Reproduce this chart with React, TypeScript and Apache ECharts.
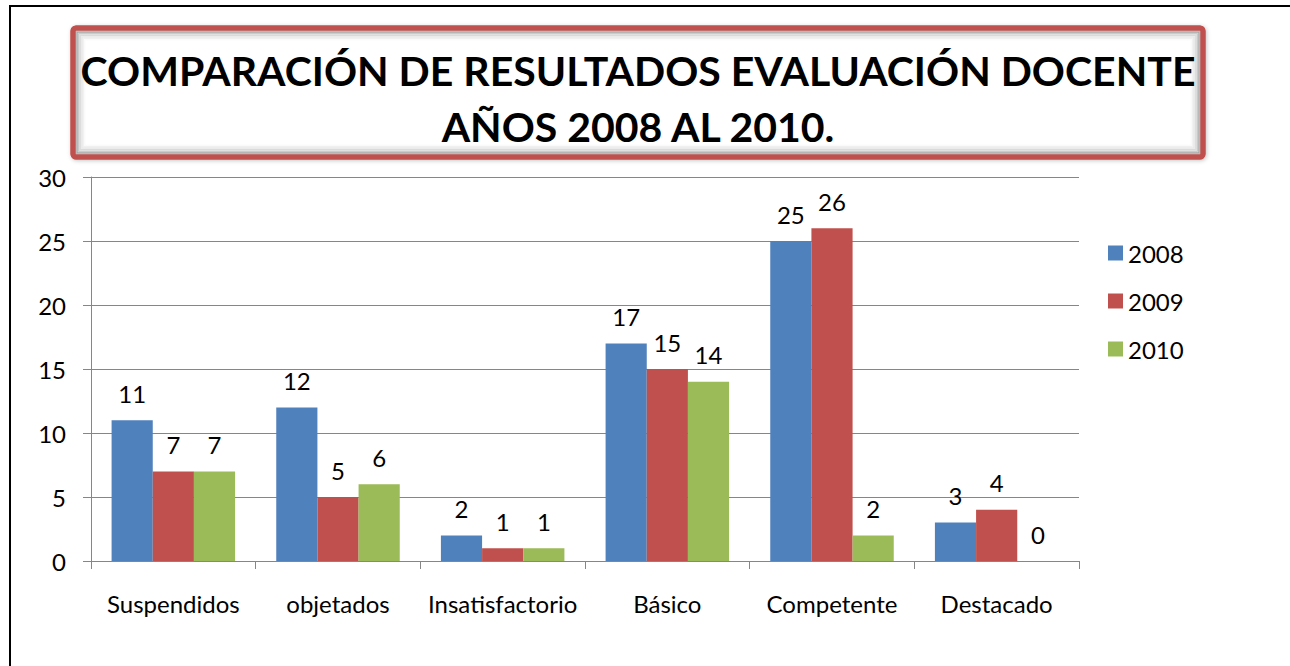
import React, { useEffect, useRef } from "react";
import * as echarts from "echarts";

const categories = ["Suspendidos", "objetados", "Insatisfactorio", "Básico", "Competente", "Destacado"];
const seriesNames = ["2008", "2009", "2010"];
const values2008 = [11, 12, 2, 17, 25, 3];
const values2009 = [7, 5, 1, 15, 26, 4];
const values2010 = [7, 6, 1, 14, 2, 0];
const colors = ["#4F81BD", "#C0504D", "#9BBB59"];
const titleLines = ["COMPARACIÓN DE RESULTADOS EVALUACIÓN DOCENTE", "AÑOS 2008 AL 2010."];

const FONT = "Lato, 'Open Sans', sans-serif";

export default function App() {
  const ref = useRef<HTMLDivElement>(null);
  useEffect(() => {
    if (!ref.current) return;
    const chart = echarts.init(ref.current, null, { renderer: "svg" });
    const seriesData = [values2008, values2009, values2010];
    const boxX = 73, boxY = 28, boxW = 1130, boxH = 129;
    const glow: any[] = [];
    const alphas = [0.27, 0.18, 0.12, 0.08, 0.05, 0.02];
    alphas.forEach((a, i) => {
      const inset = 3.5 + i * 1.6;
      glow.push({
        type: "rect",
        shape: { x: boxX + inset, y: boxY + inset, width: boxW - 2 * inset, height: boxH - 2 * inset },
        style: { fill: "none", stroke: `rgba(0,0,0,${a})`, lineWidth: 2 },
        silent: true,
      });
    });
    chart.setOption({
      animation: false,
      backgroundColor: "#ffffff",
      color: colors,
      textStyle: { fontFamily: FONT },
      graphic: [
        {
          type: "rect",
          shape: { x: 10, y: 6, width: 1300, height: 700 },
          style: { fill: "none", stroke: "#000", lineWidth: 2 },
          silent: true,
          z: 0,
        },
        {
          type: "rect",
          shape: { x: boxX, y: boxY, width: boxW, height: boxH, r: 3 },
          style: { fill: "#fff", stroke: "#C0504D", lineWidth: 5, shadowBlur: 4, shadowColor: "rgba(0,0,0,0.25)", shadowOffsetX: 1, shadowOffsetY: 1 },
          silent: true,
        },
        ...glow,
        {
          type: "rect",
          shape: { x: boxX, y: boxY, width: boxW, height: boxH, r: 3 },
          style: { fill: "none", stroke: "#C0504D", lineWidth: 5 },
          silent: true,
        },
        {
          type: "text",
          x: boxX + boxW / 2,
          y: 70,
          style: { text: titleLines[0], fill: "#000", font: `bold 41px ${FONT}`, align: "center", verticalAlign: "middle" },
          silent: true,
        },
        {
          type: "text",
          x: boxX + boxW / 2,
          y: 126,
          style: { text: titleLines[1], fill: "#000", font: `bold 41px ${FONT}`, align: "center", verticalAlign: "middle" },
          silent: true,
        },
      ],
      grid: { left: 91, right: 211, top: 177, bottom: 105, containLabel: false },
      legend: {
        orient: "vertical",
        left: 1103,
        top: 236,
        itemWidth: 15,
        itemHeight: 15,
        itemGap: 24,
        icon: "rect",
        data: seriesNames,
        textStyle: { fontSize: 24, color: "#000", fontFamily: FONT },
      },
      xAxis: {
        type: "category",
        data: categories,
        axisLine: { lineStyle: { color: "#868686", width: 1 } },
        axisTick: { show: true, length: 8, lineStyle: { color: "#868686" } },
        axisLabel: { color: "#000", fontSize: 24, margin: 30, interval: 0, fontFamily: FONT },
      },
      yAxis: {
        type: "value",
        min: 0,
        max: 30,
        interval: 5,
        axisLine: { show: true, lineStyle: { color: "#868686", width: 1 } },
        axisTick: { show: true, length: 8, lineStyle: { color: "#868686" } },
        axisLabel: { color: "#000", fontSize: 24, margin: 25, fontFamily: FONT },
        splitLine: { lineStyle: { color: "#868686", width: 1 } },
      },
      series: seriesNames.map((name, i) => ({
        name,
        type: "bar",
        data: seriesData[i],
        barGap: "0%",
        barCategoryGap: "25%",
        itemStyle: { color: colors[i] },
        label: { show: true, position: "top", distance: 15, color: "#000", fontSize: 24, fontFamily: FONT },
      })),
    });
    return () => chart.dispose();
  }, []);
  return <div ref={ref} style={{ position: "absolute", left: 0, top: 0, width: 1290, height: 666 }} />;
}
